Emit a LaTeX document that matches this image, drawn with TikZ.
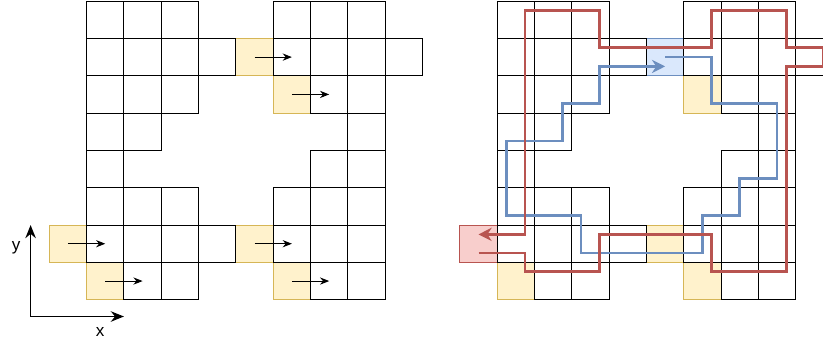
\documentclass[tikz,border=0pt]{standalone}
\usepackage{fontspec}
\setmainfont{Liberation Sans}
\usetikzlibrary{arrows.meta}
\definecolor{ylwfill}{HTML}{FFF2CC}
\definecolor{ylwdraw}{HTML}{D6B656}
\definecolor{bluefill}{HTML}{DAE8FC}
\definecolor{bluedraw}{HTML}{6C8EBF}
\definecolor{redfill}{HTML}{F8CECC}
\definecolor{reddraw}{HTML}{B85450}
\begin{document}
\begin{tikzpicture}[x=1cm,y=1cm,
  cell/.style={draw=black,line width=0.7pt,minimum size=1cm,inner sep=0pt},
  ylwcell/.style={cell,fill=ylwfill,draw=ylwdraw},
  bluecell/.style={cell,fill=bluefill,draw=bluedraw},
  redcell/.style={cell,fill=redfill,draw=reddraw},
  movearr/.style={-{Stealth[length=7pt,width=5.5pt]},line width=0.7pt},
  axis/.style={{Stealth[length=10pt,width=8pt]}-{Stealth[length=10pt,width=8pt]},line width=1.3pt},
  route/.style={line width=2pt,-{Stealth[length=10pt,width=10pt]}},
  lab/.style={font=\fontsize{13pt}{15pt}\selectfont,inner sep=0pt}]
\useasboundingbox (-1.32,-1.24) rectangle (20.73,8.03);
% coloured cells
\foreach \c/\r in {5/6,6/5,0/1,5/1,1/0,6/0}
  \node[ylwcell] (l\c-\r) at (\c+0.5,\r+0.5) {};
\foreach \c/\r in {6/5,5/1,1/0,6/0}
  \node[ylwcell] (r\c-\r) at (\c+11.5,\r+0.5) {};
\node[bluecell] (r5-6) at (16.5,6.5) {};
\node[redcell] (r0-1) at (11.5,1.5) {};
% grid cells, both halves
\foreach \g/\dx in {l/0,r/11} {
  \foreach \r/\cl in {7/{1,2,3,6,7,8},6/{1,2,3,4,6,7,8,9},5/{1,2,3,7,8},4/{1,2,8},
                      3/{1,7,8},2/{1,2,3,6,7,8},1/{1,2,3,4,6,7,8},0/{2,3,7,8}}
    \foreach \c in \cl
      \node[cell] (\g\c-\r) at (\c+\dx+0.5,\r+0.5) {};
}
% moves
\foreach \a/\b in {5-6/6-6,6-5/7-5,0-1/1-1,5-1/6-1,1-0/2-0,6-0/7-0}
  \draw[movearr] (l\a.center) -- (l\b.center);
% axes
\coordinate (o) at (-0.5,-0.45);
\coordinate (ytip) at (-0.5,2);
\coordinate (xtip) at (2,-0.45);
\draw[axis] (ytip) -- (o) -- (xtip);
\node[lab] (ylab) at (-0.89,1.38) {y};
\node[lab] (xlab) at (1.36,-0.87) {x};
% routes
\begin{scope}[xshift=11cm]
\draw[route,bluedraw] (5.5,6.5) -| (6.75,5.25) -| (8.5,3.25) -| (7.5,2.25) -| (6.5,1.25)
  -| (3.25,2.25) -| (1.25,4.25) -| (2.75,5.25) -| (3.75,6.25) -- (5.5,6.25);
\draw[route,reddraw] (0.5,1.25) -| (1.75,0.75) -| (3.75,1.75) -| (6.75,0.75) -| (8.75,6.25)
  -| (9.75,6.75) -| (8.75,7.75) -| (6.75,6.75) -| (3.75,7.75) -| (1.75,1.75) -- (0.5,1.75);
\end{scope}
\end{tikzpicture}
\end{document}
